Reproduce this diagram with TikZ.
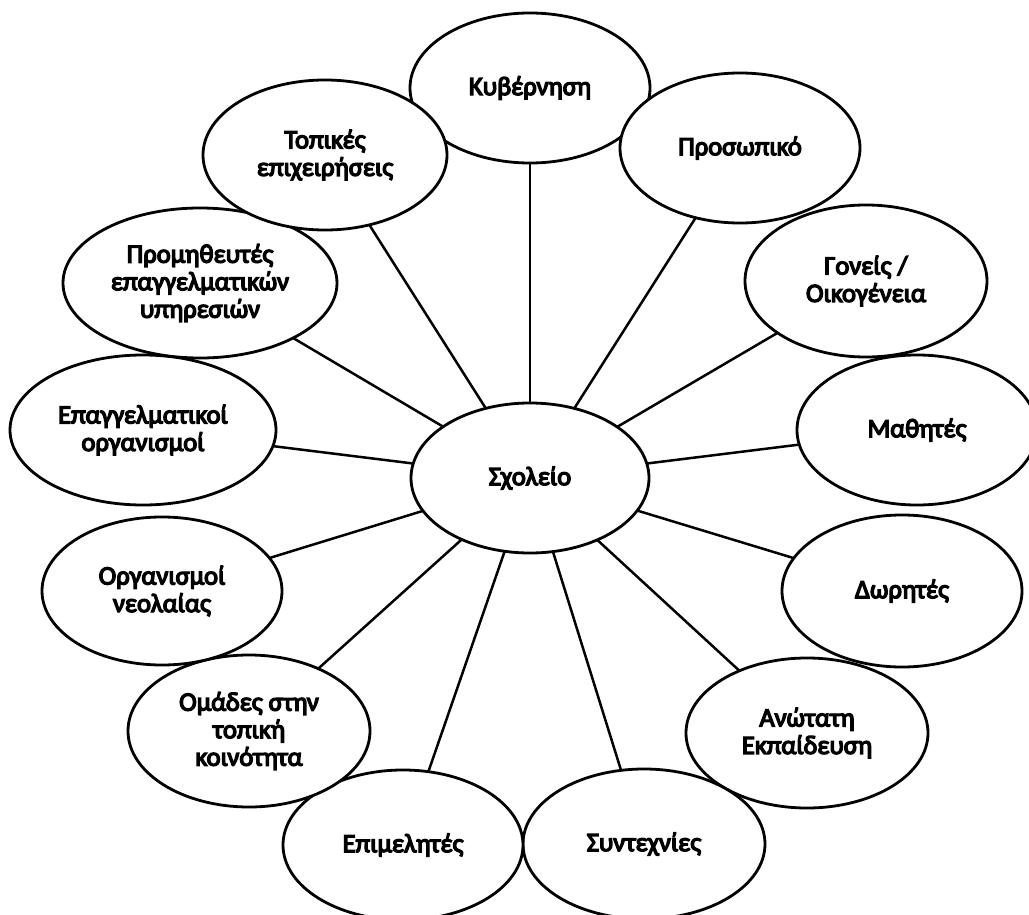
\documentclass[tikz,border=0pt]{standalone}
\usepackage{fontspec}
\setmainfont{Carlito}
% heavy face for the bubble labels
\newfontfamily\labelfont{Carlito}[FakeBold=5]
\usetikzlibrary{shapes.geometric}
\begin{document}
\begin{tikzpicture}[x=1pt,y=-1pt,
  bubble/.style={ellipse,draw,fill=white,line width=2.8pt,inner sep=0pt,outer sep=0pt,
    minimum width=240pt,minimum height=150pt,align=center,
    font=\labelfont\fontsize{26.5}{27.5}\selectfont},
  spoke/.style={line width=2.5pt}]
\useasboundingbox (0,0) rectangle (1029,915);
% surrounding stakeholders
\node[bubble] (gov) at (530,88) {Κυβέρνηση};
\node[bubble] (staff) at (740,148) {Προσωπικό};
\node[bubble,minimum width=242pt,minimum height=152pt] (par) at (866,281) {Γονείς /\\Οικογένεια};
\node[bubble] (stu) at (917,430) {Μαθητές};
\node[bubble,minimum height=152pt] (don) at (902,591) {Δωρητές};
\node[bubble,minimum width=242pt] (he) at (807,733) {Ανώτατη\\Εκπαίδευση};
\node[bubble,minimum width=242pt] (uni) at (644,844) {Συντεχνίες};
\node[bubble] (cur) at (403,845) {Επιμελητές};
\node[bubble,minimum width=242pt,minimum height=152pt] (com) at (249,731) {Ομάδες στην\\τοπική\\κοινότητα};
\node[bubble,minimum height=148pt] (youth) at (162,591) {Οργανισμοί\\νεολαίας};
\node[bubble,minimum width=266pt] (prof) at (143,430) {Επαγγελματικοί\\οργανισμοί};
\node[bubble,minimum width=274pt] (sup) at (200,283) {Προμηθευτές\\επαγγελματικών\\υπηρεσιών};
\node[bubble,minimum width=244pt] (bus) at (325,155) {Τοπικές\\επιχειρήσεις};
% central node
\node[bubble,minimum width=238pt] (s) at (530,478) {Σχολείο};
% spokes from the school to every stakeholder
\foreach \n in {gov,staff,par,stu,don,he,uni,cur,com,youth,prof,sup,bus}
  \draw[spoke] (s) -- (\n);
\end{tikzpicture}
\end{document}
